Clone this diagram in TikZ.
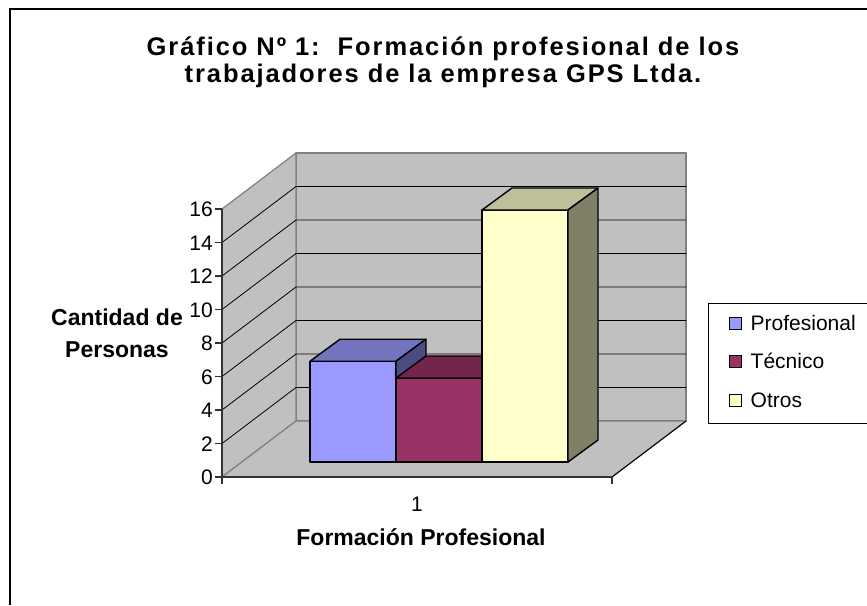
\documentclass[tikz,border=0pt]{standalone}
\usepackage{fontspec}
\setmainfont{Liberation Sans}
\newfontfamily\titlefont[LetterSpace=7.5]{Liberation Sans}
\usetikzlibrary{positioning}

\definecolor{wallgray}{HTML}{C0C0C0}
\definecolor{edgegray}{HTML}{808080}
\definecolor{prof}{HTML}{9999FF}
\definecolor{tec}{HTML}{993366}
\definecolor{otros}{HTML}{FFFFCC}

\begin{document}
\begin{tikzpicture}[x=1pt, y=-1pt, node distance=9pt]
    \tikzstyle{wall} = [fill=wallgray, draw=edgegray, line width=1.2pt, line join=round];
    \tikzstyle{gridline} = [line width=0.8pt];
    \tikzstyle{axis} = [draw=black!80, line width=1.2pt];
    \tikzstyle{bar} = [draw=black, line width=1.4pt, line join=round];
    \tikzstyle{ticklabel} = [anchor=east, inner sep=0pt, text height=15pt, text depth=0pt,
    font=\fontsize{21}{21}\selectfont];
    \tikzstyle{axistitle} = [anchor=base, inner sep=0pt, font=\bfseries\fontsize{23}{23}\selectfont];
    \tikzstyle{title} = [anchor=base, inner sep=0pt,
    font=\titlefont\bfseries\fontsize{25.5}{25.5}\selectfont];
    \tikzstyle{key} = [draw, line width=1pt, minimum size=12pt, inner sep=0pt];
    \tikzstyle{keytext} = [inner sep=0pt, text height=15pt, text depth=0pt,
    font=\fontsize{21}{21}\selectfont];

    \useasboundingbox (0,0) rectangle (867,605);
    \draw[line width=1.5pt] (10,605) -- (10,9) -- (867,9);

    % walls and floor
    \path[wall] (296,153) rectangle (686,421);
    \path[wall] (222,209) -- (296,153) -- (296,421) -- (222,477) -- cycle;
    \path[wall] (222,477) -- (296,421) -- (686,421) -- (612,477) -- cycle;
    \foreach \k in {1,...,7} {
        \draw[gridline] (222,477-33.5*\k) -- (296,421-33.5*\k) -- (686,421-33.5*\k);
    }
    \draw[line width=1pt] (612,477) -- (686,421);
    \draw[axis] (222,209) -- (222,477) -- (612,477);
    \draw[axis] (222,477) -- (222,484) (612,477) -- (612,484);
    \foreach \v in {0,2,...,16} {
        \draw[axis] (215,477-16.75*\v) -- (222,477-16.75*\v);
        \node[ticklabel] (y\v) at (213,477-16.75*\v) {\v};
    }

    % bars
    \foreach \x/\v/\c in {310/6/prof, 396/5/tec, 482/15/otros} {
        \pgfmathsetmacro{\h}{462-16.8*\v}
        \filldraw[bar, fill=\c] (\x,462) rectangle (\x+86,\h);
        \filldraw[bar, fill=\c!75!black] (\x,\h) -- ++(30,-22) -- ++(86,0) -- ++(-30,22) -- cycle;
        \filldraw[bar, fill=\c!50!black] (\x+86,\h) -- ++(30,-22) -- (\x+116,440) -- (\x+86,462) -- cycle;
    }

    % texts
    \node[title] (title1) at (443,55) {Gráfico Nº 1:\ \ Formación profesional de los};
    \node[title] (title2) at (443,82) {trabajadores de la empresa GPS Ltda.};
    \node[axistitle] (ylab1) at (117,325) {Cantidad de};
    \node[axistitle] (ylab2) at (117,357) {Personas};
    \node[ticklabel, anchor=center] (cat) at (417,504) {1};
    \node[axistitle] (xlab) at (421,545) {Formación Profesional};

    % legend
    \draw[line width=1pt] (867,303) -- (708,303) -- (708,423) -- (867,423);
    \node[key, fill=prof] (k1) at (735,323) {};
    \node[key, fill=tec] (k2) at (735,361) {};
    \node[key, fill=otros] (k3) at (735,400) {};
    \node[keytext, right=of k1] (t1) {Profesional};
    \node[keytext, right=of k2] (t2) {Técnico};
    \node[keytext, right=of k3] (t3) {Otros};
\end{tikzpicture}
\end{document}
